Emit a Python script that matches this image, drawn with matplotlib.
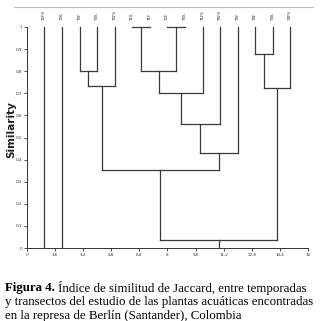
import numpy as np
import matplotlib.pyplot as plt
from matplotlib.lines import Line2D

# leaf labels (left to right) and their x positions
leaf_labels = ["T2FS", "T2IL", "T3F", "T3IL", "T3FS", "T1IL", "T1F", "T2F",
               "T5IL", "T1FS", "T5FS", "T5F", "T4F", "T4IL", "T4FS"]
leaf_x = [1, 2, 3, 4, 5, 6, 7, 8, 9, 10, 11, 12, 13, 14, 15]
leaf_top = 1.0

# merges: (child a, child b, similarity); new node ids start at 15
merge_a = [5, 7, 2, 15, 17, 18, 20, 21, 12, 23, 19, 25]
merge_b = [6, 8, 3, 16, 4, 9, 10, 11, 13, 14, 22, 24]
merge_h = [1.0, 1.0, 0.80, 0.80, 0.733, 0.703, 0.56, 0.431, 0.878, 0.725, 0.355, 0.036]
# leaves that never join and go straight down to 0
loose = [0, 1]

xticks = [0, 1.6, 3.2, 4.8, 6.4, 8, 9.6, 11.2, 12.8, 14.4, 16]
yticks = [0, 0.1, 0.2, 0.3, 0.4, 0.5, 0.6, 0.7, 0.8, 0.9, 1]

fig = plt.figure(figsize=(3.2, 3.21), dpi=100)
ax = fig.add_axes([0.084, 0.2274, 0.8785, 0.6885])

lc = '#3a3a3a'
lw = 0.9
nx = list(map(float, leaf_x))
nh = [leaf_top] * len(leaf_x)
for a, b, h in zip(merge_a, merge_b, merge_h):
    for c in (a, b):
        ax.plot([nx[c], nx[c]], [nh[c], h], color=lc, lw=lw, clip_on=False)
    ax.plot([nx[a], nx[b]], [h, h], color=lc, lw=lw, clip_on=False)
    nx.append((nx[a] + nx[b]) / 2)
    nh.append(h)
# root stem down to zero
ax.plot([nx[-1], nx[-1]], [nh[-1], 0], color=lc, lw=lw)
for i in loose:
    ax.plot([leaf_x[i], leaf_x[i]], [leaf_top, 0], color=lc, lw=lw)

for x, lab in zip(leaf_x, leaf_labels):
    ax.annotate(lab, (x, leaf_top), xytext=(0, 4), textcoords='offset points',
                rotation=90, ha='center', va='bottom', fontsize=3, color='#333333')

ax.set_xlim(0, 16)
ax.set_ylim(0, 1.0)
ax.set_xticks(xticks)
ax.set_xticklabels([str(t).replace('.', ',') for t in xticks])
ax.set_yticks(yticks)
ax.set_yticklabels([str(t).replace('.', ',') for t in yticks])
ax.tick_params(labelsize=3, length=2, width=0.6, pad=1.5, colors='#333333')
for s in ['top', 'right']:
    ax.spines[s].set_visible(False)
for s in ['left', 'bottom']:
    ax.spines[s].set_linewidth(0.7)
    ax.spines[s].set_color('#333333')

# y label placed like the reference (slightly above centre)
fig.text(11 / 320, 1 - 129.5 / 321, "Similarity", fontsize=7.6, fontweight='bold',
         rotation=90, ha='center', va='center', color='#222222')

# thin frame line at top
fig.add_artist(Line2D([14 / 320, 313 / 320], [1 - 7 / 321, 1 - 7 / 321],
                      color='#bbbbbb', lw=0.8))

cap_lines = ["Índice de similitud de Jaccard, entre temporadas",
             "y transectos del estudio de las plantas acuáticas encontradas",
             "en la represa de Berlín (Santander), Colombia"]
serif = 'Liberation Serif'
fs = 9.3
t = fig.text(5 / 320, 1 - 288 / 321, "Figura 4.", fontsize=fs, family=serif,
             fontweight='bold', va='center')
fig.canvas.draw()
bb = t.get_window_extent()
fig.text(bb.x1 / 320 + 0.008, 1 - 288 / 321, cap_lines[0], fontsize=fs,
         family=serif, va='center')
fig.text(5 / 320, 1 - 302 / 321, cap_lines[1], fontsize=fs, family=serif, va='center')
fig.text(5 / 320, 1 - 316 / 321, cap_lines[2], fontsize=fs, family=serif, va='center')

fig.savefig("out.png", dpi=100)
